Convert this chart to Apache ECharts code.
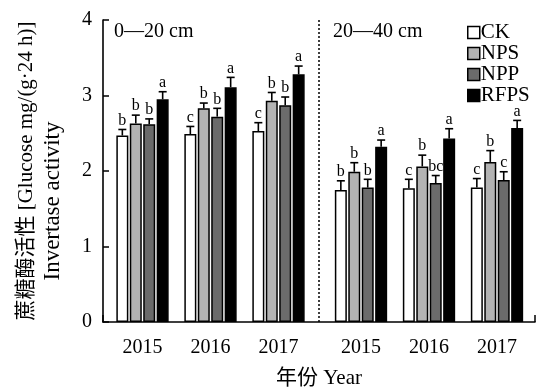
<!DOCTYPE html>
<html><head><meta charset="utf-8">
<script src="https://cdn.jsdelivr.net/npm/echarts@6/dist/echarts.min.js"></script>
<style>html,body{margin:0;padding:0;background:#fff}#c{width:540px;height:390px}</style>
</head><body><div id="c"></div>
<script>
const years = ['2015', '2016', '2017'];
const seriesNames = ['CK', 'NPS', 'NPP', 'RFPS'];
// 0—20 cm
const ckTop = [2.47, 2.49, 2.53];
const npsTop = [2.63, 2.83, 2.93];
const nppTop = [2.62, 2.72, 2.87];
const rfpsTop = [2.95, 3.11, 3.28];
const ckTopErr = [0.08, 0.10, 0.11];
const npsTopErr = [0.11, 0.07, 0.11];
const nppTopErr = [0.07, 0.11, 0.11];
const rfpsTopErr = [0.10, 0.13, 0.11];
const ckTopLet = ['b', 'c', 'c'];
const npsTopLet = ['b', 'b', 'b'];
const nppTopLet = ['b', 'b', 'b'];
const rfpsTopLet = ['a', 'a', 'a'];
// 20—40 cm
const ckSub = [1.75, 1.77, 1.78];
const npsSub = [1.99, 2.06, 2.12];
const nppSub = [1.78, 1.84, 1.88];
const rfpsSub = [2.32, 2.43, 2.57];
const ckSubErr = [0.12, 0.12, 0.12];
const npsSubErr = [0.12, 0.15, 0.15];
const nppSubErr = [0.11, 0.10, 0.11];
const rfpsSubErr = [0.09, 0.13, 0.10];
const ckSubLet = ['b', 'c', 'c'];
const npsSubLet = ['b', 'b', 'b'];
const nppSubLet = ['b', 'bc', 'c'];
const rfpsSubLet = ['a', 'a', 'a'];
const yTicks = [0, 1, 2, 3, 4];

const colors = ['#ffffff', '#b3b3b3', '#6b6b6b', '#000000'];
const FONT = "'Liberation Serif', 'Times New Roman', 'Noto Sans CJK SC', serif";
const BW = 12, GAP = 0.12, PITCH = BW * (1 + GAP);

const groups = [
  {vals: [ckTop, npsTop, nppTop, rfpsTop], errs: [ckTopErr, npsTopErr, nppTopErr, rfpsTopErr], lets: [ckTopLet, npsTopLet, nppTopLet, rfpsTopLet]},
  {vals: [ckSub, npsSub, nppSub, rfpsSub], errs: [ckSubErr, npsSubErr, nppSubErr, rfpsSubErr], lets: [ckSubLet, npsSubLet, nppSubLet, rfpsSubLet]}
];

const chart = echarts.init(document.getElementById('c'), null, {renderer: 'canvas'});
const series = [];
groups.forEach((g, gi) => {
  g.vals.forEach((arr, si) => {
    series.push({
      type: 'bar', name: seriesNames[si], xAxisIndex: gi, yAxisIndex: gi,
      data: arr, barWidth: BW, barGap: (GAP * 100) + '%',
      itemStyle: {color: colors[si], borderColor: '#000', borderWidth: 1.5},
      emphasis: {disabled: true}, z: 2
    });
  });
  const items = [];
  g.vals.forEach((arr, si) => arr.forEach((v, ci) => items.push({cat: ci, v: v, e: g.errs[si][ci], s: si, l: g.lets[si][ci]})));
  series.push({
    type: 'custom', xAxisIndex: gi, yAxisIndex: gi, z: 5,
    data: items.map(it => [it.cat, it.v, it.e, it.s]),
    renderItem: function (params, api) {
      const it = items[params.dataIndex];
      const p0 = api.coord([it.cat, it.v]);
      const p1 = api.coord([it.cat, it.v + it.e]);
      const x = p0[0] + (it.s - 1.5) * PITCH;
      const st = {stroke: '#000', lineWidth: 1.6};
      return {type: 'group', children: [
        {type: 'line', shape: {x1: x, y1: p0[1], x2: x, y2: p1[1]}, style: st},
        {type: 'line', shape: {x1: x - 4, y1: p1[1], x2: x + 4, y2: p1[1]}, style: st},
        {type: 'text', x: x, y: p1[1] - 1, style: {text: it.l, fill: '#000', font: '16px ' + FONT, textAlign: 'center', textVerticalAlign: 'bottom'}}
      ]};
    }
  });
});
// divider
series.push({
  type: 'line', xAxisIndex: 2, yAxisIndex: 2, data: [], silent: true,
  markLine: {symbol: 'none', silent: true, label: {show: false},
    lineStyle: {color: '#000', type: [2, 2], width: 1.5},
    data: [{xAxis: 216}]}
});

const catAxis = (gi) => ({
  type: 'category', gridIndex: gi, data: years,
  axisLine: {show: false}, axisTick: {show: false},
  axisLabel: {fontFamily: FONT, fontSize: 20, color: '#000', margin: 16}
});
const hiddenY = (gi) => ({type: 'value', gridIndex: gi, min: 0, max: 4, show: false});

chart.setOption({
  animation: false,
  grid: [
    {left: 108.5, width: 204, top: 20, bottom: 68},
    {left: 327, width: 204, top: 20, bottom: 68},
    {left: 103, right: 5, top: 20, bottom: 68}
  ],
  xAxis: [catAxis(0), catAxis(1), {
    type: 'value', gridIndex: 2, min: 0, max: 432, interval: 432,
    axisLine: {show: true, lineStyle: {color: '#000', width: 1.6}},
    axisTick: {show: true, inside: true, length: 7, lineStyle: {color: '#000', width: 1.5}},
    axisLabel: {show: false}, splitLine: {show: false}
  }],
  yAxis: [hiddenY(0), hiddenY(1), {
    type: 'value', gridIndex: 2, min: yTicks[0], max: yTicks[yTicks.length - 1], interval: 1,
    axisLine: {show: true, lineStyle: {color: '#000', width: 1.6}},
    axisTick: {show: true, inside: true, length: 6, lineStyle: {color: '#000', width: 1.5}},
    axisLabel: {fontFamily: FONT, fontSize: 20, color: '#000', margin: 11},
    splitLine: {show: false}
  }],
  legend: {
    data: seriesNames, orient: 'vertical', left: 462, top: 17,
    icon: 'rect', itemWidth: 12, itemHeight: 12, itemGap: 0,
    itemStyle: {borderColor: '#000', borderWidth: 1.5},
    textStyle: {fontFamily: FONT, fontSize: 21, color: '#000', padding: [0, 0, 0, -4], lineHeight: 20},
    selectedMode: false
  },
  graphic: [
    {type: 'text', x: 114, y: 32, style: {text: '0—20 cm', font: '20px ' + FONT, fill: '#000', textVerticalAlign: 'middle'}},
    {type: 'text', x: 333, y: 32, style: {text: '20—40 cm', font: '20px ' + FONT, fill: '#000', textVerticalAlign: 'middle'}},
    {type: 'text', x: 319, y: 378, style: {text: '年份 Year', font: '21px ' + FONT, fill: '#000', textAlign: 'center', textVerticalAlign: 'middle'}},
    {type: 'text', x: 26, y: 171, rotation: Math.PI / 2, style: {text: '蔗糖酶活性 [Glucose mg/(g·24 h)]', font: '21px ' + FONT, fill: '#000', textAlign: 'center', textVerticalAlign: 'middle'}},
    {type: 'text', x: 53, y: 201, rotation: Math.PI / 2, style: {text: 'Invertase activity', font: '23px ' + FONT, fill: '#000', textAlign: 'center', textVerticalAlign: 'middle'}}
  ],
  series: series
});
</script></body></html>
